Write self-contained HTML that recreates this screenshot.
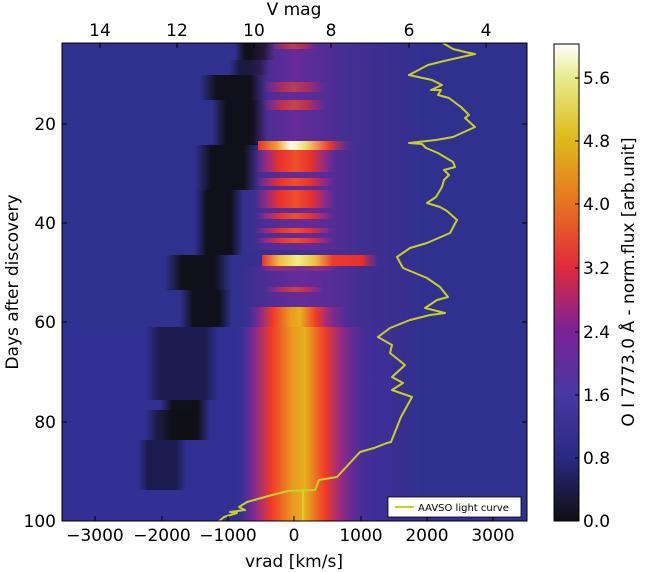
<!DOCTYPE html>
<html><head><meta charset="utf-8"><style>
html,body{margin:0;padding:0;background:#fff;}
svg{display:block;font-family:"DejaVu Sans","Liberation Sans",sans-serif;}
</style></head><body>
<svg width="645" height="572" viewBox="0 0 645 572" xmlns="http://www.w3.org/2000/svg">
<defs>
<linearGradient id="cb" x1="0" y1="1" x2="0" y2="0">
<stop offset="0" stop-color="#0e0e10"/>
<stop offset="0.133" stop-color="#2a2a82"/>
<stop offset="0.267" stop-color="#4838a2"/>
<stop offset="0.4" stop-color="#7c2296"/>
<stop offset="0.533" stop-color="#e02a3c"/>
<stop offset="0.667" stop-color="#e87420"/>
<stop offset="0.8" stop-color="#dcba18"/>
<stop offset="0.933" stop-color="#e8ec90"/>
<stop offset="1" stop-color="#ffffff"/>
</linearGradient>
<linearGradient id="abs" x1="0" x2="1" y1="0" y2="0">
<stop offset="0" stop-color="#0e0e14" stop-opacity="0"/>
<stop offset="0.25" stop-color="#0e0e14" stop-opacity="0.95"/>
<stop offset="0.75" stop-color="#0e0e14" stop-opacity="0.95"/>
<stop offset="1" stop-color="#0e0e14" stop-opacity="0"/>
</linearGradient>
<linearGradient id="absN" x1="0" x2="1" y1="0" y2="0">
<stop offset="0" stop-color="#1a1a50" stop-opacity="0"/>
<stop offset="0.2" stop-color="#1a1a48" stop-opacity="0.9"/>
<stop offset="0.8" stop-color="#1a1a48" stop-opacity="0.9"/>
<stop offset="1" stop-color="#1a1a50" stop-opacity="0"/>
</linearGradient>
<linearGradient id="pur" x1="0" x2="1">
<stop offset="0" stop-color="#6a2a9a" stop-opacity="0"/>
<stop offset="0.5" stop-color="#6a2a9a" stop-opacity="0.9"/>
<stop offset="1" stop-color="#6a2a9a" stop-opacity="0"/>
</linearGradient>
<linearGradient id="red" x1="0" x2="1">
<stop offset="0" stop-color="#8a2a8a" stop-opacity="0"/>
<stop offset="0.15" stop-color="#9a2a80"/>
<stop offset="0.3" stop-color="#e8302e"/>
<stop offset="0.5" stop-color="#f0502a"/>
<stop offset="0.7" stop-color="#e8302e"/>
<stop offset="0.85" stop-color="#9a2a80"/>
<stop offset="1" stop-color="#8a2a8a" stop-opacity="0"/>
</linearGradient>
<linearGradient id="org" x1="0" x2="1">
<stop offset="0" stop-color="#6a2a9a" stop-opacity="0"/>
<stop offset="0.12" stop-color="#8a2a8a"/>
<stop offset="0.25" stop-color="#f03a28"/>
<stop offset="0.42" stop-color="#e89a20"/>
<stop offset="0.52" stop-color="#e8b020"/>
<stop offset="0.68" stop-color="#f03a28"/>
<stop offset="0.8" stop-color="#9a2a80"/>
<stop offset="1" stop-color="#6a2a9a" stop-opacity="0"/>
</linearGradient>
<linearGradient id="wht" x1="0" x2="1">
<stop offset="0" stop-color="#e8302e"/>
<stop offset="0.2" stop-color="#f0a030"/>
<stop offset="0.35" stop-color="#fffff0"/>
<stop offset="0.5" stop-color="#f0e070"/>
<stop offset="0.75" stop-color="#f03a2a"/>
<stop offset="1" stop-color="#8a2a8a" stop-opacity="0"/>
</linearGradient>
<linearGradient id="yel" x1="0" x2="1">
<stop offset="0" stop-color="#e8302e"/>
<stop offset="0.15" stop-color="#f0c040"/>
<stop offset="0.3" stop-color="#f0f080"/>
<stop offset="0.45" stop-color="#f0c040"/>
<stop offset="0.6" stop-color="#f03a2a"/>
<stop offset="0.85" stop-color="#e8302e"/>
<stop offset="1" stop-color="#8a2a8a" stop-opacity="0"/>
</linearGradient>
<clipPath id="cp"><rect x="62" y="43" width="465" height="478"/></clipPath>
</defs>

<g clip-path="url(#cp)">
<rect x="62" y="43" width="465" height="478" fill="#30308e"/>
<rect x="62" y="327" width="330" height="194" fill="#34309a" opacity="0.6"/>
<rect x="230" y="43" width="200" height="478" fill="url(#pur)" opacity="0.5"/>
<rect x="235" y="43" width="40" height="17" fill="url(#abs)"/>
<rect x="230" y="60" width="40" height="15" fill="url(#abs)" opacity="0.7"/>
<rect x="200" y="75" width="68" height="25" fill="url(#abs)"/>
<rect x="212" y="100" width="56" height="45" fill="url(#abs)"/>
<rect x="195" y="145" width="65" height="45" fill="url(#abs)"/>
<rect x="195" y="190" width="48" height="65" fill="url(#abs)"/>
<rect x="165" y="255" width="66" height="35" fill="url(#abs)"/>
<rect x="180" y="290" width="52" height="37" fill="url(#abs)"/>
<rect x="145" y="327" width="75" height="73" fill="url(#absN)"/>
<rect x="160" y="400" width="50" height="40" fill="url(#abs)"/>
<rect x="145" y="410" width="55" height="30" fill="url(#abs)" opacity="0.7"/>
<rect x="138" y="440" width="48" height="50" fill="url(#absN)"/>
<rect x="250" y="43" width="90" height="100" fill="url(#pur)"/>
<rect x="270" y="43" width="48" height="6" fill="url(#red)" opacity="0.6"/>
<rect x="262" y="82" width="64" height="10" fill="url(#red)" opacity="0.55"/>
<rect x="262" y="100" width="64" height="10" fill="url(#red)" opacity="0.7"/>
<rect x="245" y="150" width="110" height="100" fill="url(#pur)"/>
<rect x="255" y="150" width="80" height="22" fill="url(#red)"/>
<rect x="255" y="178" width="80" height="8" fill="url(#red)"/>
<rect x="255" y="190" width="80" height="18" fill="url(#red)"/>
<rect x="255" y="213" width="80" height="6" fill="url(#red)"/>
<rect x="255" y="228" width="80" height="5" fill="url(#red)"/>
<rect x="255" y="238" width="80" height="5" fill="url(#red)"/>
<rect x="258" y="141" width="95" height="9" fill="url(#wht)"/>
<rect x="262" y="255" width="118" height="11" fill="url(#yel)"/>
<rect x="258" y="266" width="80" height="5" fill="url(#red)"/>
<rect x="240" y="266" width="120" height="60" fill="url(#pur)"/>
<rect x="265" y="287" width="60" height="5" fill="url(#red)" opacity="0.7"/>
<rect x="248" y="307" width="100" height="20" fill="url(#org)"/>
<rect x="240" y="327" width="125" height="194" fill="url(#org)"/>
<line x1="303" y1="491" x2="303" y2="521" stroke="#d8dc30" stroke-width="1.5"/>
<polyline fill="none" stroke="#c8d028" stroke-width="2" stroke-linejoin="round" points="443,43 453,49 465,52 475,54 444,61 428,65 409,75 432,80 442,85 431,90 441,90 438,95 449,98 461,107 469,115 465,118 475,127 453,137 436,140 409,143 422,144 426,148 438,153 453,162 455,167 444,170 449,175 444,180 442,187 436,197 427,203 440,207 447,211 457,220 450,233 427,243 410,248 397,257 403,268 427,278 440,287 448,297 437,300 425,308 445,313 430,315 410,320 390,328 378,337 392,345 390,353 405,365 392,377 403,383 392,390 412,397 401,417 391,442 387,443 374,448 360,452 337,477 319,480 315,490 288,491 272,495 247,502 239,507 245,510 230,512 237,513 224,517 218,522"/>
</g>
<rect x="62" y="43" width="465" height="478" fill="none" stroke="#000" stroke-width="1"/>
<g stroke="#000" stroke-width="1">
<line x1="95" y1="521" x2="95" y2="516"/><line x1="162" y1="521" x2="162" y2="516"/><line x1="228" y1="521" x2="228" y2="516"/><line x1="294" y1="521" x2="294" y2="516"/><line x1="361" y1="521" x2="361" y2="516"/><line x1="427" y1="521" x2="427" y2="516"/><line x1="493" y1="521" x2="493" y2="516"/>
<line x1="62" y1="124" x2="67" y2="124"/><line x1="62" y1="223" x2="67" y2="223"/><line x1="62" y1="322" x2="67" y2="322"/><line x1="62" y1="422" x2="67" y2="422"/>
<line x1="527" y1="124" x2="522" y2="124"/><line x1="527" y1="223" x2="522" y2="223"/><line x1="527" y1="322" x2="522" y2="322"/><line x1="527" y1="422" x2="522" y2="422"/>
<line x1="100" y1="43" x2="100" y2="48"/><line x1="177" y1="43" x2="177" y2="48"/><line x1="254" y1="43" x2="254" y2="48"/><line x1="331" y1="43" x2="331" y2="48"/><line x1="409" y1="43" x2="409" y2="48"/><line x1="486" y1="43" x2="486" y2="48"/>
</g>
<g font-size="17" fill="#000" text-anchor="middle">
<text x="95" y="541">−3000</text><text x="162" y="541">−2000</text><text x="228" y="541">−1000</text><text x="294" y="541">0</text><text x="361" y="541">1000</text><text x="427" y="541">2000</text><text x="493" y="541">3000</text>
<text x="100" y="36">14</text><text x="177" y="36">12</text><text x="254" y="36">10</text><text x="331" y="36">8</text><text x="409" y="36">6</text><text x="486" y="36">4</text>
<text x="294" y="567">vrad [km/s]</text>
<text x="294" y="15">V mag</text>
</g>
<g font-size="17" fill="#000" text-anchor="end">
<text x="56" y="130">20</text><text x="56" y="229">40</text><text x="56" y="328">60</text><text x="56" y="428">80</text><text x="56" y="527">100</text>
</g>
<text transform="translate(18,282) rotate(-90)" font-size="17" text-anchor="middle">Days after discovery</text>
<rect x="388" y="497" width="133" height="20" fill="#fff" stroke="#000" stroke-width="0.8"/>
<line x1="395" y1="507" x2="414" y2="507" stroke="#c8d028" stroke-width="2"/>
<text x="418" y="511" font-size="10">AAVSO light curve</text>
<rect x="554" y="44" width="25" height="477" fill="url(#cb)" stroke="#000" stroke-width="1"/>
<g stroke="#000"><line x1="579" y1="78" x2="575" y2="78"/><line x1="579" y1="141" x2="575" y2="141"/><line x1="579" y1="204" x2="575" y2="204"/><line x1="579" y1="268" x2="575" y2="268"/><line x1="579" y1="332" x2="575" y2="332"/><line x1="579" y1="395" x2="575" y2="395"/><line x1="579" y1="458" x2="575" y2="458"/></g>
<g font-size="17" fill="#000">
<text x="583" y="84">5.6</text><text x="583" y="147">4.8</text><text x="583" y="210">4.0</text><text x="583" y="274">3.2</text><text x="583" y="338">2.4</text><text x="583" y="401">1.6</text><text x="583" y="464">0.8</text><text x="583" y="527">0.0</text>
</g>
<text transform="translate(634,282) rotate(-90)" font-size="17" text-anchor="middle">O I 7773.0 Å - norm.flux [arb.unit]</text>
</svg>
</body></html>
